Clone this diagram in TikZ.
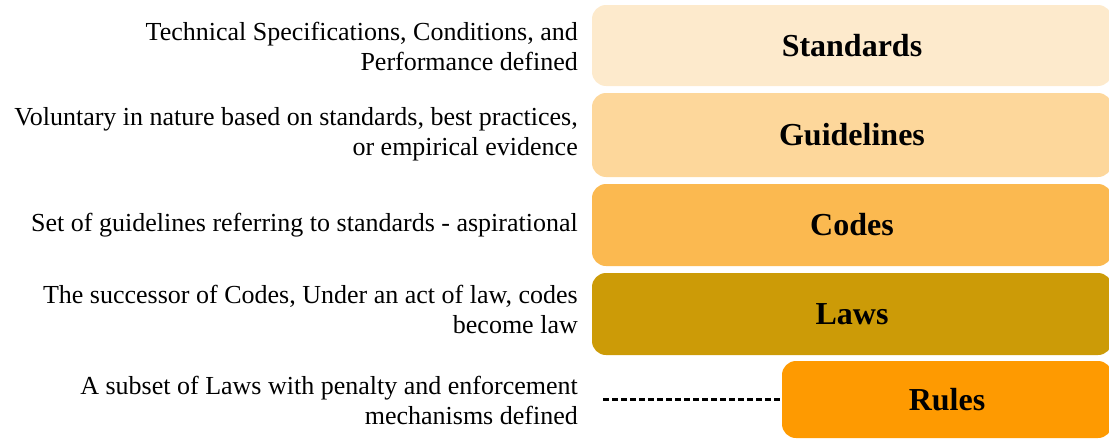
\documentclass[tikz,border=0pt]{standalone}
\usepackage{fontspec}
\setmainfont{Liberation Serif}
\usepackage{tikz}
\definecolor{stdC}{HTML}{FDEACC}
\definecolor{gdlC}{HTML}{FDD79B}
\definecolor{codC}{HTML}{FBB950}
\definecolor{lawC}{HTML}{CC9B07}
\definecolor{rulC}{HTML}{FE9A01}
\tikzstyle{layer}=[rectangle,rounded corners=14pt,inner sep=0pt,text=black,font=\fontsize{32}{36}\selectfont\bfseries]
\tikzstyle{desc}=[anchor=east,align=right,inner sep=0pt,text=black,font=\fontsize{26}{30}\selectfont]
\tikzstyle{link}=[line width=2.2pt,dash pattern=on 6pt off 3pt]

\begin{document}
\begin{tikzpicture}[x=1pt,y=-1pt]
  \useasboundingbox (0,0) rectangle (1109,439);
  \node[layer,fill=stdC,minimum width=520pt,minimum height=81pt] (std) at (852,45.5) {Standards};
  \node[layer,fill=gdlC,minimum width=520pt,minimum height=84pt] (gdl) at (852,135) {Guidelines};
  \node[layer,fill=codC,minimum width=520pt,minimum height=82pt] (cod) at (852,225) {Codes};
  \node[layer,fill=lawC,minimum width=520pt,minimum height=82pt] (law) at (852,314) {Laws};
  \node[layer,fill=rulC,minimum width=330pt,minimum height=77pt] (rul) at (947,399.5) {Rules};

  \node[desc] (stdD) at (578,46) {Technical Specifications, Conditions, and\\Performance defined};
  \node[desc] (gdlD) at (578,134) {Voluntary in nature based on standards, best practices,\\or empirical evidence};
  \node[desc] (codD) at (578,225) {Set of guidelines referring to standards - aspirational};
  \node[desc] (lawD) at (578,309) {The successor of Codes, Under an act of law, codes\\become law};
  \node[desc] (rulD) at (578,400) {A subset of Laws with penalty and enforcement\\mechanisms defined};

  \draw[link] ([xshift=25pt]rulD.east|-rul.west)--(rul.west);
\end{tikzpicture}
\end{document}
